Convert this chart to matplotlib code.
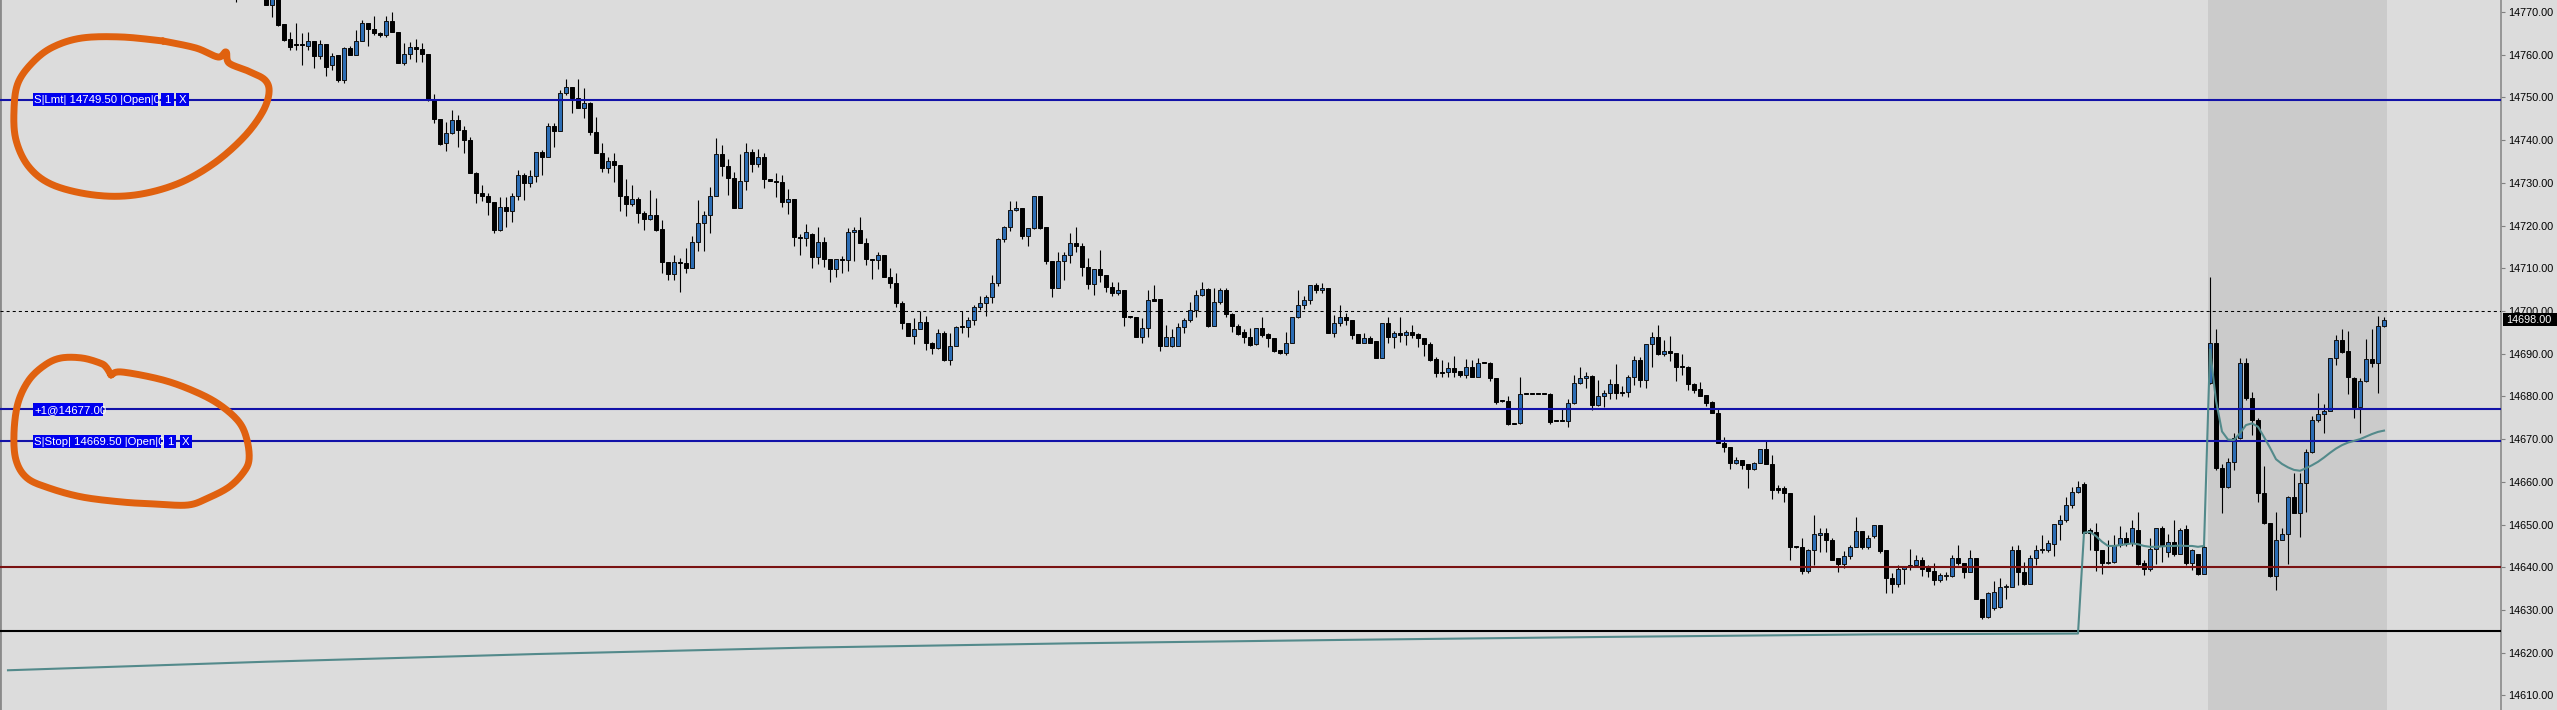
import numpy as np
import matplotlib
matplotlib.use('Agg')
import matplotlib.pyplot as plt
from matplotlib import font_manager
from matplotlib.patches import Rectangle
from matplotlib.transforms import blended_transform_factory

plt.rcParams['lines.scale_dashes'] = False

# ---------------- data ----------------
opens = [
14778.0, 14776.0, 14778.0, 14779.0, 14776.0, 14775.0, 14771.7, 14774.5, 14767.2, 14763.6,
14762.5, 14762.4, 14762.1, 14763.3, 14759.6, 14762.5, 14757.5, 14759.9, 14754.1, 14761.5,
14760.0, 14763.3, 14767.5, 14766.0, 14765.0, 14764.5, 14768.0, 14765.4, 14758.0, 14760.2,
14761.9, 14761.3, 14760.2, 14749.4, 14744.9, 14739.3, 14741.6, 14744.6, 14742.4, 14740.0,
14732.4, 14727.6, 14727.0, 14725.4, 14719.0, 14724.3, 14723.3, 14727.0, 14731.8, 14729.9,
14731.5, 14737.2, 14736.1, 14743.3, 14742.2, 14751.1, 14752.4, 14749.8, 14747.5, 14748.6,
14742.0, 14737.1, 14733.4, 14735.2, 14734.2, 14726.9, 14725.0, 14726.2, 14723.0, 14721.5,
14722.5, 14719.1, 14711.5, 14708.7, 14711.5, 14711.3, 14710.0, 14716.2, 14720.7, 14722.4,
14726.9, 14736.8, 14734.0, 14731.1, 14724.2, 14730.4, 14737.3, 14734.4, 14736.0, 14730.8,
14730.5, 14730.3, 14725.6, 14726.2, 14717.3, 14717.1, 14718.0, 14712.7, 14716.2, 14712.1,
14709.8, 14712.1, 14711.9, 14718.4, 14719.0, 14716.0, 14712.1, 14711.9, 14713.1, 14707.9,
14706.5, 14701.9, 14697.1, 14694.1, 14695.9, 14697.5, 14692.4, 14691.3, 14694.8, 14688.5,
14691.9, 14696.5, 14696.3, 14698.0, 14701.0, 14701.8, 14703.2, 14706.5, 14716.8, 14719.6,
14723.7, 14724.0, 14717.6, 14719.4, 14726.9, 14719.6, 14711.8, 14705.3, 14711.8, 14713.1,
14716.0, 14715.1, 14710.4, 14706.3, 14709.8, 14708.4, 14705.7, 14704.3, 14704.9, 14698.8,
14698.5, 14693.8, 14696.0, 14702.7, 14702.8, 14691.7, 14691.7, 14691.9, 14696.3, 14697.9,
14700.2, 14703.7, 14705.1, 14696.5, 14702.0, 14704.8, 14699.3, 14696.6, 14695.0, 14693.8,
14692.3, 14696.0, 14694.6, 14693.6, 14690.9, 14690.1, 14692.6, 14698.5, 14701.3, 14702.6,
14706.1, 14705.0, 14705.5, 14694.8, 14697.1, 14698.7, 14698.0, 14694.6, 14692.6, 14693.6,
14693.0, 14688.9, 14697.3, 14694.0, 14694.9, 14694.4, 14695.2, 14694.6, 14693.6, 14692.3,
14688.7, 14685.8, 14685.8, 14686.6, 14686.0, 14685.0, 14686.8, 14684.6, 14687.9, 14687.9,
14684.2, 14679.0, 14679.0, 14673.7, 14673.7, 14680.6, 14680.6, 14680.6, 14680.6, 14680.6,
14674.3, 14674.3, 14674.3, 14678.5, 14683.2, 14684.2, 14684.9, 14678.0, 14680.2, 14680.7,
14682.8, 14681.1, 14681.1, 14684.6, 14688.5, 14683.8, 14692.2, 14693.8, 14689.9, 14690.7,
14690.1, 14687.1, 14687.0, 14682.9, 14681.7, 14680.3, 14678.8, 14676.2, 14669.2, 14668.1,
14664.5, 14665.1, 14664.3, 14662.9, 14664.5, 14667.6, 14664.3, 14658.5, 14658.5, 14657.5,
14644.7, 14644.7, 14639.2, 14644.0, 14647.6, 14648.1, 14646.5, 14642.1, 14640.8, 14642.6,
14644.8, 14648.6, 14644.7, 14647.3, 14649.9, 14644.0, 14637.4, 14636.1, 14639.5, 14640.0,
14640.5, 14641.8, 14640.0, 14639.2, 14637.0, 14638.0, 14637.9, 14642.1, 14640.9, 14639.0,
14642.1, 14632.7, 14628.4, 14630.4, 14630.6, 14635.4, 14635.4, 14644.0, 14639.0, 14636.2,
14642.1, 14644.0, 14644.0, 14645.5, 14650.1, 14651.1, 14654.6, 14657.7, 14659.5, 14648.7,
14648.3, 14644.0, 14640.9, 14641.3, 14645.2, 14646.8, 14645.6, 14648.7, 14640.9, 14639.5,
14644.2, 14649.1, 14643.6, 14646.0, 14643.1, 14648.9, 14640.9, 14643.1, 14638.4, 14683.1,
14692.6, 14663.2, 14658.7, 14664.7, 14670.2, 14687.8, 14679.6, 14674.5, 14657.5, 14650.3,
14637.9, 14646.5, 14647.9, 14656.5, 14652.6, 14659.8, 14667.1, 14674.5, 14676.0, 14676.7,
14688.9, 14693.2, 14690.7, 14684.2, 14677.6, 14683.5, 14688.7, 14687.8, 14696.5,
]
highs = [
14781.0, 14780.0, 14782.0, 14781.0, 14778.0, 14777.0, 14775.5, 14775.5, 14767.2, 14765.4,
14767.4, 14765.0, 14765.2, 14763.3, 14763.5, 14762.5, 14760.3, 14759.9, 14761.9, 14762.1,
14765.8, 14768.1, 14767.5, 14769.1, 14765.4, 14769.1, 14770.1, 14765.4, 14762.7, 14762.9,
14763.6, 14762.8, 14760.2, 14750.8, 14744.9, 14744.3, 14747.1, 14745.9, 14743.3, 14740.8,
14732.6, 14729.5, 14727.6, 14725.6, 14726.8, 14726.8, 14727.7, 14733.0, 14732.2, 14733.0,
14737.3, 14737.8, 14744.0, 14744.1, 14751.8, 14754.3, 14752.4, 14754.3, 14752.1, 14749.0,
14745.5, 14739.3, 14736.1, 14736.9, 14734.2, 14730.8, 14729.5, 14726.8, 14723.4, 14728.3,
14726.4, 14721.3, 14711.5, 14713.1, 14712.3, 14714.7, 14717.6, 14726.0, 14723.5, 14729.1,
14740.4, 14738.9, 14735.5, 14732.6, 14736.8, 14739.3, 14737.9, 14737.9, 14737.1, 14730.9,
14732.4, 14731.8, 14728.5, 14726.2, 14718.0, 14720.4, 14718.2, 14719.6, 14717.4, 14712.1,
14712.1, 14712.9, 14719.4, 14719.6, 14721.9, 14717.0, 14712.2, 14713.9, 14713.1, 14710.0,
14708.8, 14702.3, 14697.3, 14698.3, 14700.1, 14698.8, 14692.8, 14695.7, 14695.4, 14694.8,
14696.5, 14700.1, 14698.7, 14701.4, 14703.4, 14703.7, 14708.4, 14717.0, 14719.8, 14725.8,
14725.8, 14724.0, 14719.4, 14726.9, 14726.9, 14719.6, 14711.8, 14713.9, 14713.9, 14718.3,
14719.6, 14716.0, 14712.3, 14709.8, 14714.3, 14708.4, 14706.9, 14706.9, 14704.9, 14698.8,
14698.5, 14698.3, 14704.9, 14706.1, 14702.8, 14696.7, 14695.7, 14697.3, 14698.3, 14702.2,
14704.9, 14706.9, 14705.3, 14705.3, 14705.3, 14705.3, 14699.6, 14697.0, 14695.7, 14696.0,
14696.0, 14698.7, 14694.8, 14693.6, 14690.9, 14695.2, 14698.7, 14704.8, 14703.5, 14706.1,
14706.5, 14706.5, 14705.5, 14699.1, 14701.4, 14699.6, 14698.0, 14694.6, 14694.9, 14694.1,
14693.0, 14697.3, 14698.5, 14695.4, 14698.5, 14695.6, 14696.7, 14694.9, 14693.6, 14692.8,
14689.3, 14688.5, 14688.1, 14689.5, 14686.0, 14688.7, 14688.5, 14688.9, 14687.9, 14688.1,
14684.2, 14679.0, 14680.1, 14673.7, 14684.6, 14680.6, 14680.6, 14680.6, 14680.6, 14680.9,
14674.3, 14677.2, 14679.3, 14685.0, 14686.8, 14685.8, 14685.0, 14683.8, 14681.5, 14684.0,
14687.7, 14682.4, 14685.0, 14689.5, 14689.3, 14692.2, 14695.2, 14696.7, 14693.2, 14694.1,
14690.1, 14689.9, 14687.2, 14683.1, 14683.4, 14680.3, 14679.0, 14677.2, 14670.6, 14668.1,
14665.9, 14665.1, 14664.3, 14664.7, 14667.8, 14669.6, 14666.3, 14659.2, 14659.0, 14657.5,
14644.8, 14646.8, 14644.2, 14652.2, 14649.3, 14649.3, 14646.8, 14642.1, 14643.9, 14645.2,
14651.7, 14648.6, 14647.5, 14649.9, 14649.9, 14644.0, 14638.6, 14640.5, 14640.3, 14644.4,
14642.8, 14642.3, 14640.6, 14641.1, 14638.6, 14638.9, 14642.9, 14645.2, 14640.9, 14644.0,
14642.1, 14632.7, 14634.3, 14636.9, 14637.4, 14636.2, 14645.0, 14645.2, 14641.3, 14642.9,
14645.2, 14647.5, 14646.4, 14650.1, 14652.2, 14656.5, 14658.9, 14660.3, 14660.0, 14649.1,
14650.3, 14644.0, 14646.4, 14647.5, 14649.7, 14648.3, 14651.1, 14653.0, 14641.6, 14646.8,
14649.3, 14649.7, 14647.9, 14651.1, 14649.1, 14649.9, 14644.4, 14643.1, 14645.2, 14708.0,
14695.7, 14664.3, 14665.7, 14671.5, 14689.1, 14689.1, 14681.1, 14674.9, 14663.7, 14650.3,
14653.0, 14649.1, 14656.7, 14662.0, 14662.0, 14667.6, 14675.4, 14680.7, 14678.2, 14689.1,
14694.4, 14695.7, 14695.4, 14684.6, 14684.2, 14693.4, 14695.9, 14698.8, 14698.5,
]
lows = [
14772.4, 14774.0, 14775.0, 14775.5, 14774.0, 14771.6, 14768.9, 14766.7, 14763.1, 14761.1,
14761.1, 14757.6, 14761.1, 14756.8, 14758.9, 14754.9, 14756.4, 14753.5, 14753.3, 14760.0,
14760.0, 14763.1, 14762.1, 14764.6, 14764.2, 14764.2, 14765.4, 14758.0, 14757.6, 14758.9,
14758.4, 14758.4, 14749.2, 14744.1, 14738.9, 14737.5, 14741.4, 14738.5, 14737.1, 14732.4,
14725.2, 14725.8, 14722.5, 14718.2, 14718.8, 14719.7, 14720.9, 14726.0, 14726.0, 14729.1,
14730.3, 14731.8, 14736.1, 14738.5, 14742.2, 14750.6, 14746.4, 14747.5, 14745.1, 14741.2,
14737.1, 14732.6, 14732.2, 14730.1, 14723.5, 14722.2, 14724.6, 14720.7, 14719.0, 14721.3,
14718.8, 14708.8, 14707.2, 14707.2, 14704.5, 14709.0, 14710.0, 14714.1, 14714.1, 14718.2,
14726.9, 14731.6, 14727.2, 14724.0, 14724.2, 14728.3, 14732.6, 14733.6, 14728.7, 14730.4,
14726.6, 14724.4, 14722.7, 14715.2, 14713.1, 14715.2, 14710.0, 14711.0, 14710.4, 14706.9,
14708.0, 14709.0, 14709.4, 14711.6, 14716.0, 14710.8, 14707.4, 14709.8, 14707.9, 14705.3,
14701.0, 14695.7, 14694.1, 14692.3, 14695.9, 14690.9, 14689.9, 14691.0, 14688.4, 14687.4,
14691.9, 14694.8, 14694.0, 14696.7, 14700.2, 14698.8, 14701.9, 14705.8, 14716.2, 14718.8,
14723.3, 14716.8, 14715.1, 14719.2, 14719.2, 14711.0, 14703.2, 14705.3, 14707.3, 14711.3,
14713.7, 14708.2, 14705.1, 14703.8, 14706.9, 14704.5, 14703.4, 14703.8, 14696.5, 14698.3,
14693.8, 14692.4, 14694.0, 14702.4, 14690.7, 14691.7, 14691.5, 14691.9, 14694.8, 14697.5,
14698.7, 14703.5, 14696.3, 14696.5, 14701.7, 14698.5, 14695.2, 14694.4, 14692.4, 14691.8,
14692.1, 14694.0, 14691.6, 14690.5, 14689.9, 14689.7, 14692.4, 14698.3, 14700.4, 14701.6,
14704.3, 14704.3, 14694.8, 14693.8, 14696.5, 14696.7, 14693.4, 14692.4, 14692.4, 14692.4,
14688.9, 14688.9, 14692.6, 14691.3, 14692.8, 14692.0, 14693.6, 14691.6, 14689.5, 14688.4,
14684.6, 14684.6, 14684.5, 14684.6, 14684.6, 14684.2, 14684.6, 14684.6, 14687.8, 14683.5,
14678.2, 14678.8, 14673.3, 14673.5, 14673.5, 14680.6, 14680.6, 14680.6, 14680.6, 14673.5,
14674.2, 14674.2, 14672.9, 14678.2, 14683.0, 14681.9, 14676.8, 14677.8, 14677.6, 14679.5,
14679.5, 14680.1, 14679.9, 14682.7, 14682.3, 14681.9, 14687.0, 14689.7, 14689.5, 14688.4,
14683.5, 14685.0, 14681.5, 14680.7, 14680.1, 14677.8, 14676.2, 14669.2, 14667.0, 14662.9,
14664.2, 14662.9, 14658.5, 14662.7, 14664.5, 14664.1, 14656.1, 14657.3, 14655.3, 14641.8,
14644.6, 14638.4, 14638.7, 14640.5, 14643.6, 14643.6, 14641.6, 14639.0, 14639.9, 14642.0,
14644.8, 14644.4, 14644.2, 14646.8, 14643.3, 14634.0, 14634.0, 14635.4, 14636.2, 14639.3,
14640.0, 14638.0, 14637.8, 14635.8, 14636.6, 14637.0, 14637.8, 14640.5, 14637.4, 14639.0,
14632.5, 14627.8, 14628.2, 14630.0, 14630.4, 14632.5, 14635.4, 14635.8, 14635.8, 14636.0,
14640.5, 14643.3, 14643.7, 14642.6, 14646.5, 14650.7, 14653.8, 14657.3, 14648.0, 14644.0,
14639.2, 14638.4, 14640.7, 14640.9, 14644.8, 14645.0, 14645.0, 14640.6, 14638.2, 14639.2,
14640.8, 14641.3, 14642.5, 14642.6, 14643.1, 14640.5, 14639.4, 14638.2, 14638.4, 14682.9,
14662.8, 14652.6, 14658.5, 14662.8, 14670.0, 14679.2, 14671.0, 14655.4, 14650.1, 14637.7,
14634.7, 14646.3, 14640.8, 14652.6, 14647.0, 14653.0, 14666.7, 14674.1, 14671.4, 14676.5,
14687.4, 14690.1, 14680.6, 14674.9, 14671.5, 14683.3, 14687.0, 14680.9, 14696.3,
]
closes = [
14776.0, 14778.0, 14779.0, 14776.0, 14775.0, 14771.7, 14774.5, 14767.0, 14763.5, 14761.9,
14762.2, 14762.2, 14763.3, 14759.6, 14762.5, 14757.2, 14759.7, 14754.1, 14761.5, 14760.0,
14763.3, 14767.5, 14766.0, 14765.0, 14764.5, 14768.0, 14765.4, 14758.0, 14760.2, 14761.9,
14761.3, 14760.2, 14749.4, 14744.9, 14739.1, 14741.6, 14744.6, 14742.4, 14740.0, 14732.4,
14727.6, 14727.0, 14725.4, 14719.0, 14724.3, 14723.3, 14727.0, 14731.8, 14729.9, 14731.5,
14737.2, 14736.1, 14743.3, 14742.2, 14751.1, 14752.4, 14749.8, 14747.5, 14748.6, 14742.0,
14737.1, 14733.4, 14735.2, 14734.2, 14726.9, 14725.0, 14726.2, 14723.0, 14721.5, 14722.5,
14719.0, 14711.5, 14708.7, 14711.5, 14711.3, 14710.0, 14716.2, 14720.7, 14722.4, 14726.9,
14736.8, 14734.0, 14731.1, 14724.0, 14730.4, 14737.3, 14734.4, 14736.0, 14730.8, 14730.5,
14730.3, 14725.6, 14726.2, 14717.3, 14717.1, 14718.6, 14712.7, 14716.2, 14712.1, 14709.8,
14712.1, 14711.9, 14718.4, 14719.0, 14716.0, 14712.1, 14711.9, 14713.1, 14707.9, 14706.5,
14701.9, 14697.1, 14694.1, 14695.9, 14697.5, 14692.4, 14691.3, 14694.8, 14688.5, 14691.9,
14696.2, 14696.2, 14698.0, 14701.0, 14701.8, 14703.2, 14706.5, 14716.8, 14719.6, 14723.7,
14724.0, 14717.6, 14719.4, 14726.9, 14719.4, 14711.8, 14705.3, 14711.8, 14713.1, 14716.0,
14715.1, 14710.4, 14706.3, 14709.8, 14708.4, 14705.7, 14704.3, 14704.9, 14698.7, 14698.5,
14693.8, 14696.0, 14702.6, 14702.4, 14691.7, 14693.8, 14694.0, 14696.3, 14697.9, 14700.2,
14703.7, 14705.1, 14696.5, 14702.0, 14704.8, 14699.3, 14696.6, 14694.6, 14693.8, 14692.0,
14696.0, 14694.4, 14693.6, 14690.7, 14690.1, 14692.6, 14698.5, 14701.3, 14702.6, 14706.1,
14704.8, 14705.5, 14694.8, 14697.1, 14698.7, 14697.9, 14694.4, 14692.6, 14693.6, 14692.6,
14688.9, 14697.3, 14694.0, 14694.9, 14694.4, 14695.2, 14694.4, 14693.6, 14692.3, 14688.5,
14685.5, 14685.5, 14686.6, 14685.8, 14685.0, 14686.8, 14684.6, 14687.8, 14687.8, 14684.2,
14678.8, 14678.9, 14673.5, 14673.6, 14680.6, 14680.6, 14680.6, 14680.6, 14680.6, 14674.1,
14674.3, 14674.3, 14678.5, 14683.2, 14684.2, 14684.9, 14678.0, 14680.2, 14680.7, 14682.8,
14680.9, 14680.7, 14684.6, 14688.5, 14683.8, 14692.2, 14693.8, 14689.9, 14690.7, 14690.1,
14687.0, 14686.8, 14682.9, 14681.5, 14680.1, 14678.5, 14676.2, 14669.2, 14668.1, 14664.5,
14665.1, 14663.9, 14662.9, 14664.5, 14667.6, 14664.3, 14658.2, 14658.2, 14657.5, 14644.7,
14644.7, 14639.2, 14644.0, 14647.8, 14648.1, 14646.5, 14641.8, 14640.8, 14642.6, 14644.8,
14648.6, 14644.7, 14646.8, 14649.9, 14643.9, 14637.4, 14636.1, 14639.5, 14640.0, 14640.5,
14641.8, 14639.5, 14639.2, 14637.0, 14638.2, 14638.2, 14642.1, 14640.9, 14639.0, 14642.1,
14632.7, 14628.4, 14634.1, 14634.3, 14635.4, 14635.5, 14644.0, 14639.0, 14636.2, 14642.1,
14644.0, 14644.2, 14645.6, 14650.1, 14651.1, 14654.6, 14657.7, 14658.7, 14648.0, 14648.1,
14644.0, 14640.9, 14641.3, 14645.2, 14646.8, 14645.6, 14649.3, 14640.8, 14639.5, 14644.2,
14649.1, 14645.2, 14646.0, 14643.1, 14648.7, 14640.9, 14644.0, 14638.4, 14644.8, 14692.6,
14663.2, 14658.7, 14664.7, 14670.2, 14687.8, 14679.6, 14674.5, 14657.5, 14650.3, 14637.9,
14646.5, 14647.9, 14656.5, 14652.6, 14659.8, 14667.1, 14674.5, 14676.0, 14676.7, 14688.9,
14693.2, 14690.5, 14684.5, 14677.6, 14683.5, 14688.7, 14687.8, 14696.5, 14698.0,
]

# teal session-average line (bar index, value)
teal_x = [-38, 5, 50, 95, 139, 184, 228, 273, 307] + list(range(308, 359))
teal_v = [14615.9, 14617.9, 14619.7, 14621.2, 14622.2, 14623.0, 14623.7, 14624.3, 14624.5,
          14648.1, 14648.3, 14647.3, 14646.0, 14645.0, 14645.0, 14645.2, 14645.4, 14645.6, 14645.4,
          14645.0, 14644.8, 14644.8, 14644.9, 14645.0, 14645.0, 14645.1, 14645.0, 14645.0, 14644.8,
          14645.0,
          14691.0, 14679.0, 14671.8, 14669.9, 14669.8, 14671.4, 14673.3, 14673.7, 14672.9, 14670.5,
          14668.0, 14665.3, 14664.2, 14663.4, 14662.8, 14662.6, 14663.2, 14663.9, 14664.7, 14665.7,
          14666.8, 14667.8, 14668.6, 14669.2, 14669.6, 14670.0, 14670.6, 14671.2, 14671.7, 14672.0]

order_lmt = 14749.50
position_price = 14677.00
order_stop = 14669.50
red_level = 14640.0
black_level = 14625.0
dotted_level = 14700.0
last_price = 14698.00
session_start = 329
y_ticks = list(range(14610, 14771, 10))
y_min, y_max = 14606.6, 14772.8

tag_lmt = ["S|Lmt| 14749.50 |Open|0", "1", "X"]
tag_pos = ["+1@14677.00"]
tag_stop = ["S|Stop| 14669.50 |Open|0", "1", "X"]

# ---------------- figure ----------------
W, H = 2557, 710
PLOT_R = 2501
X0, STEP = 236, 6

tagfont = 'Liberation Sans'
axfont = 'Liberation Sans'

BG = '#dcdcdc'
fig = plt.figure(figsize=(W / 100, H / 100), dpi=100)
fig.patch.set_facecolor(BG)
ax = fig.add_axes([0, 0, PLOT_R / W, 1])
ax.set_facecolor(BG)
ax.set_xlim(-X0 / STEP, (PLOT_R - X0) / STEP)
ax.set_ylim(y_min, y_max)
ppu = H / (y_max - y_min)

o = np.array(opens); h = np.array(highs); l = np.array(lows); c = np.array(closes)
idx = np.arange(len(o))
up = c > o

ax.axvspan(session_start - 0.35, idx[-1] + 0.55, color='#cbcbcb', lw=0, zorder=0)

ax.vlines(idx, l, h, color='black', lw=0.8, zorder=3)
bottoms = np.minimum(o, c)
heights = np.maximum(np.abs(c - o), 0.2)
ax.bar(idx[up], heights[up], bottom=bottoms[up], width=0.74, color='#2c6db4',
       edgecolor='#111111', linewidth=0.7, zorder=4)
ax.bar(idx[~up], heights[~up], bottom=bottoms[~up], width=0.74, color='black',
       edgecolor='black', linewidth=0.7, zorder=4)

ax.axhline(order_lmt, color='#1212a8', lw=1.5, zorder=6)
ax.axhline(position_price, color='#1212a8', lw=1.5, zorder=6)
ax.axhline(order_stop, color='#1212a8', lw=1.5, zorder=6)
ax.axhline(red_level, color='#7a1212', lw=1.5, zorder=6)
ax.axhline(black_level, color='black', lw=1.5, zorder=6)
ax.axhline(dotted_level, color='black', lw=0.75, dashes=(2.2, 2.2), zorder=6)

ax.plot(teal_x, teal_v, color='#538a8b', lw=1.5, zorder=7, solid_joinstyle='round')

for s in ['top', 'bottom']:
    ax.spines[s].set_visible(False)
ax.spines['right'].set_color('#8a8a8a')
ax.spines['right'].set_linewidth(1.2)
ax.spines['left'].set_color('#8a8a8a')
ax.spines['left'].set_linewidth(2.0)

ax.tick_params(axis='x', bottom=False, labelbottom=False)
ax.yaxis.tick_right()
ax.set_yticks(y_ticks)
ax.set_yticklabels([f'{v:.2f}' for v in y_ticks], fontfamily=axfont)
ax.tick_params(axis='y', length=3, width=0.8, color='#808080', pad=2,
               labelsize=7.8, labelcolor='black')

tb = blended_transform_factory(ax.transAxes, ax.transData)

# current price box
ax.add_patch(Rectangle(((PLOT_R + 2) / PLOT_R, last_price - 6.2 / ppu), 60 / PLOT_R, 12.4 / ppu,
                       transform=tb, facecolor='black', edgecolor='none', clip_on=False, zorder=20))
ax.text((PLOT_R + 5) / PLOT_R, last_price, f'{last_price:.2f}', transform=tb, color='white',
        va='center', ha='left', fontsize=7.8, fontfamily=axfont, clip_on=False, zorder=21)


def tag(price, boxes, texts):
    for (xl, xr), t in zip(boxes, texts):
        r = Rectangle((xl / PLOT_R, price - 6.5 / ppu), (xr - xl) / PLOT_R, 13 / ppu,
                      transform=tb, facecolor='#0000ee', edgecolor='none', zorder=20)
        ax.add_patch(r)
        ha = 'left' if len(t) > 1 else 'center'
        xt = (xl + 1) / PLOT_R if ha == 'left' else (xl + xr) / 2 / PLOT_R
        tx = ax.text(xt, price - 0.1, t, transform=tb, color='white', va='center', ha=ha,
                     fontsize=8.2, fontfamily=tagfont, zorder=21)
        tx.set_clip_path(r)


tag(order_lmt, [(33, 158), (161, 173.5), (176, 188.5)], tag_lmt)
tag(position_price, [(33, 103)], tag_pos)
tag(order_stop, [(33, 161), (164, 176), (179.5, 192)], tag_stop)


# ---------------- hand-drawn orange loops (pixel space overlay) ----------------
def catmull(pts, n=16):
    p = np.asarray(pts, float)
    p = np.vstack([p[0], p, p[-1]])
    out = []
    t = np.linspace(0, 1, n, endpoint=False)[:, None]
    for i in range(1, len(p) - 2):
        p0, p1, p2, p3 = p[i - 1], p[i], p[i + 1], p[i + 2]
        out.append(0.5 * ((2 * p1) + (-p0 + p2) * t + (2 * p0 - 5 * p1 + 4 * p2 - p3) * t ** 2
                          + (-p0 + 3 * p1 - 3 * p2 + p3) * t ** 3))
    out.append(p[-2][None])
    return np.vstack(out)


loop1 = [(163, 41), (196, 48), (218, 57), (226, 52), (229, 63), (248, 71), (265, 80), (269, 93),
         (262, 113), (243, 138), (213, 164), (177, 184), (135, 195), (94, 195), (53, 185),
         (29, 167), (16, 140), (14, 110), (18, 83), (33, 62), (53, 47), (82, 38), (122, 37), (163, 41)]
loop2 = [(111, 375), (122, 372), (163, 380), (196, 392), (220, 405), (239, 422), (247, 440),
         (249, 460), (243, 473), (229, 487), (208, 498), (188, 505), (155, 504), (122, 502),
         (82, 497), (49, 488), (27, 478), (16, 460), (14, 433), (18, 403), (29, 380), (45, 365),
         (61, 358), (82, 358), (100, 363), (106, 367), (111, 375)]

ov = fig.add_axes([0, 0, 1, 1])
ov.set_xlim(0, W)
ov.set_ylim(H, 0)
ov.axis('off')
ov.patch.set_alpha(0)
for lp in (loop1, loop2):
    s = catmull(lp)
    ov.plot(s[:, 0], s[:, 1], color='#e0610f', lw=5.0, solid_capstyle='round',
            solid_joinstyle='round')

fig.savefig('out.png', dpi=100, facecolor=fig.get_facecolor())
